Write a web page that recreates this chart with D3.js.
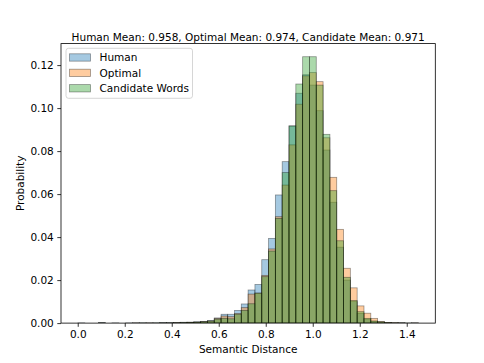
<html>
<head>
<meta charset="utf-8">
<title>Semantic distance histogram</title>
<script src="https://d3js.org/d3.v7.min.js"></script>
<style>
body { margin: 0; background: white; }
text { font-family: "DejaVu Sans", sans-serif; font-size: 10.5px; fill: black; }
</style>
</head>
<body>
<svg width="484" height="363"></svg>
<script>
// bin edges (50 bins) shared by the three histograms
var edges = [0.001, 0.030, 0.059, 0.088, 0.117, 0.146, 0.175, 0.204, 0.233, 0.262,
  0.291, 0.320, 0.349, 0.378, 0.407, 0.436, 0.465, 0.494, 0.523, 0.552,
  0.581, 0.610, 0.638, 0.667, 0.696, 0.725, 0.754, 0.783, 0.812, 0.841,
  0.870, 0.899, 0.928, 0.957, 0.986, 1.015, 1.044, 1.073, 1.102, 1.131,
  1.160, 1.189, 1.218, 1.247, 1.276, 1.305, 1.334, 1.363, 1.392, 1.420, 1.449];

var human = [0.0001, 0, 0, 0.0002, 0, 0.0001, 0, 0.0001, 0.0001, 0.0001,
  0.0001, 0.0001, 0.0002, 0.0002, 0.0003, 0.0004, 0.0004, 0.0006, 0.0008, 0.0012,
  0.0024, 0.0041, 0.0041, 0.0059, 0.0089, 0.0154, 0.0180, 0.0295, 0.0394, 0.0596,
  0.0751, 0.0917, 0.1069, 0.1155, 0.1107, 0.0988, 0.0805, 0.0562, 0.0353, 0.0200,
  0.0100, 0.0045, 0.0018, 0.0008, 0.0004, 0.0002, 0.0001, 0.0001, 0, 0.0001];

var optimal = [0, 0, 0, 0.0001, 0, 0, 0, 0, 0.0001, 0,
  0.0001, 0, 0.0001, 0.0001, 0.0002, 0.0002, 0.0004, 0.0005, 0.0007, 0.0010,
  0.0022, 0.0033, 0.0030, 0.0045, 0.0072, 0.0135, 0.0140, 0.0222, 0.0345, 0.0495,
  0.0642, 0.0829, 0.1018, 0.1150, 0.1165, 0.1123, 0.0862, 0.0678, 0.0436, 0.0255,
  0.0164, 0.0080, 0.0046, 0.0022, 0.0008, 0.0003, 0.0002, 0.0001, 0, 0.0001];

var candidate = [0, 0, 0, 0.0001, 0, 0, 0, 0, 0, 0.0001,
  0, 0.0001, 0.0001, 0.0001, 0.0001, 0.0002, 0.0003, 0.0004, 0.0006, 0.0009,
  0.0018, 0.0022, 0.0020, 0.0041, 0.0059, 0.0090, 0.0139, 0.0216, 0.0335, 0.0487,
  0.0700, 0.0917, 0.1112, 0.1239, 0.1239, 0.1107, 0.0878, 0.0616, 0.0383, 0.0213,
  0.0105, 0.0053, 0.0022, 0.0010, 0.0006, 0.0002, 0.0001, 0.0001, 0.0001, 0];

var seriesNames = ["Human", "Optimal", "Candidate Words"];
var seriesColors = ["#1f77b4", "#ff7f0e", "#2ca02c"];
var seriesData = [human, optimal, candidate];

var xTicks = [0.0, 0.2, 0.4, 0.6, 0.8, 1.0, 1.2, 1.4];
var yTicks = [0.00, 0.02, 0.04, 0.06, 0.08, 0.10, 0.12];

var titleText = "Human Mean: 0.958, Optimal Mean: 0.974, Candidate Mean: 0.971";

// axes box (window.top is read-only, so use other names)
var plotLeft = 61, plotRight = 435.3, plotTop = 43.6, plotBottom = 323.1;

var x = d3.scaleLinear().domain([-0.0712, 1.5215]).range([plotLeft, plotRight]);
var y = d3.scaleLinear().domain([0, 0.1300]).range([plotBottom, plotTop]);

var svg = d3.select("svg");

svg.append("defs").append("clipPath").attr("id", "plotclip")
  .append("rect").attr("x", plotLeft).attr("y", plotTop)
  .attr("width", plotRight - plotLeft).attr("height", plotBottom - plotTop);

var plot = svg.append("g").attr("clip-path", "url(#plotclip)");

seriesData.forEach(function(vals, s) {
  plot.append("g")
    .selectAll("rect").data(vals)
    .enter().append("rect")
    .attr("x", function(d, i) { return x(edges[i]); })
    .attr("width", function(d, i) { return x(edges[i + 1]) - x(edges[i]); })
    .attr("y", function(d) { return y(d); })
    .attr("height", function(d) { return y(0) - y(d); })
    .style("fill", seriesColors[s])
    .style("fill-opacity", 0.4)
    .style("stroke", "black")
    .style("stroke-opacity", 0.4)
    .style("stroke-width", 0.8);
});

// axes
var xAxis = svg.append("g")
  .attr("transform", "translate(0," + plotBottom + ")")
  .call(d3.axisBottom(x).tickValues(xTicks).tickFormat(d3.format(".1f")).tickSize(3.7).tickPadding(3.5));
var yAxis = svg.append("g")
  .attr("transform", "translate(" + plotLeft + ",0)")
  .call(d3.axisLeft(y).tickValues(yTicks).tickFormat(d3.format(".2f")).tickSize(3.7).tickPadding(3.5));

[xAxis, yAxis].forEach(function(a) {
  a.select(".domain").remove();
  a.selectAll("line").style("stroke", "black").style("stroke-width", 0.8);
  a.selectAll("text").attr("font-family", null).attr("font-size", null).style("fill", "black");
});

// frame
svg.append("rect")
  .attr("x", plotLeft).attr("y", plotTop)
  .attr("width", plotRight - plotLeft).attr("height", plotBottom - plotTop)
  .style("fill", "none").style("stroke", "black").style("stroke-width", 0.8);

// labels
svg.append("text")
  .attr("x", (plotLeft + plotRight) / 2).attr("y", 41.3)
  .style("text-anchor", "middle")
  .text(titleText);

svg.append("text")
  .attr("x", (plotLeft + plotRight) / 2).attr("y", 353)
  .style("text-anchor", "middle")
  .text("Semantic Distance");

svg.append("text")
  .attr("transform", "translate(23.5," + ((plotTop + plotBottom) / 2) + ") rotate(-90)")
  .style("text-anchor", "middle")
  .text("Probability");

// legend
var legend = svg.append("g");
legend.append("rect")
  .attr("x", 66).attr("y", 48.3).attr("width", 126.5).attr("height", 50)
  .attr("rx", 2.5)
  .style("fill", "white").style("fill-opacity", 0.8)
  .style("stroke", "#cccccc").style("stroke-width", 0.8);

var rows = legend.selectAll("g.row").data(seriesNames)
  .enter().append("g").attr("class", "row")
  .attr("transform", function(d, i) { return "translate(0," + (57.5 + i * 15.4) + ")"; });

rows.append("rect")
  .attr("x", 69.5).attr("y", -3.7).attr("width", 21).attr("height", 7.35)
  .style("fill", function(d, i) { return seriesColors[i]; })
  .style("fill-opacity", 0.4)
  .style("stroke", "black").style("stroke-opacity", 0.4).style("stroke-width", 0.8);

rows.append("text")
  .attr("x", 99.5).attr("y", 3.8)
  .text(function(d) { return d; });
</script>
</body>
</html>
